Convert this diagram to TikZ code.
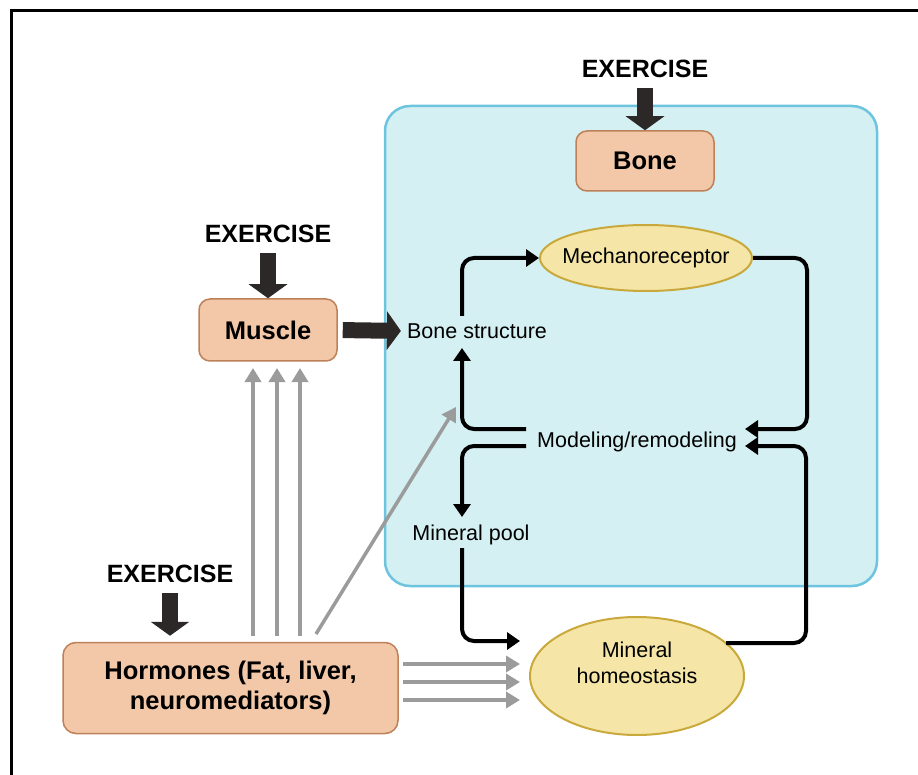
\documentclass[tikz,border=0pt]{standalone}
\usepackage{fontspec}
\setmainfont{Liberation Sans}
\usetikzlibrary{arrows.meta,shapes.geometric}
\definecolor{peach}{HTML}{F2C8A8}
\definecolor{peachline}{HTML}{BE8058}
\definecolor{sand}{HTML}{F5E6A8}
\definecolor{sandline}{HTML}{C9A93B}
\definecolor{lagoon}{HTML}{D4F0F2}
\definecolor{lagoonline}{HTML}{6CC4DE}
\definecolor{darkarrow}{HTML}{2D2828}
\definecolor{grayline}{HTML}{9B9B9B}
\begin{document}
\begin{tikzpicture}[x=1pt,y=-1pt,
  organ/.style={draw=peachline,fill=peach,line width=1.5pt,rounded corners=11pt,inner sep=0pt,
    font=\fontsize{25.5}{30}\selectfont\bfseries,align=center},
  sensor/.style={ellipse,draw=sandline,fill=sand,line width=2pt,inner sep=0pt,
    font=\fontsize{21.5}{26}\selectfont,align=center},
  exlabel/.style={font=\fontsize{25}{30}\selectfont\bfseries,inner sep=0pt,text depth=0pt},
  steplabel/.style={font=\fontsize{21.5}{26}\selectfont,inner sep=3pt,text height=17pt,text depth=2pt},
  bigarrow/.style={draw=darkarrow,line width=16pt,-{Triangle[length=14pt,width=38pt]},shorten <=10pt},
  loopline/.style={draw=black,line width=4pt,rounded corners=12pt,-{Triangle[length=13pt,width=17pt]}},
  grayarrow/.style={draw=grayline,line width=3.5pt,-{Triangle[length=14pt,width=16pt]}}]
\useasboundingbox (0,0) rectangle (918,775);
\draw [line width=3pt] (11,775) -- (11,11) -- (918,11);
\draw [draw=lagoonline,fill=lagoon,line width=2.5pt,rounded corners=25pt] (385,106) rectangle (877,586);
\node [exlabel] (exb) at (645,69) {EXERCISE};
\node [exlabel] (exm) at (268,234) {EXERCISE};
\node [exlabel] (exh) at (170,574) {EXERCISE};
\node [organ,minimum width=138,minimum height=60] (bone) at (645,161) {Bone};
\node [organ,minimum width=138,minimum height=62] (muscle) at (268,330) {Muscle};
\node [organ,minimum width=335,minimum height=91,rounded corners=13pt] (hormones) at (230.5,688) {Hormones (Fat, liver,\\neuromediators)};
\node [sensor,minimum width=212,minimum height=66,inner xsep=-9pt] (mech) at (646,258) {Mechanoreceptor};
\node [sensor,minimum width=214,minimum height=118] (minhom) at (637,676) {Mineral\\homeostasis\\\mbox{}};
\node [steplabel] (bstruct) at (477,331) {Bone structure};
\node [steplabel] (model) at (637,440) {Modeling/remodeling};
\node [steplabel] (pool) at (471,533) {Mineral pool};
\draw [bigarrow] (exb.south) -- (bone.north);
\draw [bigarrow] (exm.south) -- (muscle.north);
\draw [bigarrow,shorten >=6pt] (exh.south) -- (exh.south |- hormones.north);
\draw [bigarrow,shorten <=5pt,shorten >=3pt] (muscle.east) -- (bstruct.west);
\draw [loopline] ([shift={(-15,-15)}]bstruct.center) |- (mech.west);
\draw [loopline] (mech.east) -- ++(54,0) |- ([shift={(108,-11)}]model.center);
\draw [loopline] ([shift={(-111,-11)}]model.center) -| ([shift={(-15,17)}]bstruct.center);
\draw [loopline] ([shift={(-111,6)}]model.center) -| ([shift={(-9,-16)}]pool.center);
\draw [loopline] ([shift={(-9,15)}]pool.center) |- ([shift={(-117,-35)}]minhom.center);
\draw [loopline] ([shift={(89,-33)}]minhom.center) -- ++(80,0) |- ([shift={(108,6)}]model.center);
\draw [grayarrow] ([shift={(22.5,-52)}]hormones.center) -- ([shift={(-15,38)}]muscle.center);
\draw [grayarrow] ([shift={(46.5,-52)}]hormones.center) -- ([shift={(9,38)}]muscle.center);
\draw [grayarrow] ([shift={(69.5,-52)}]hormones.center) -- ([shift={(32,38)}]muscle.center);
\draw [grayarrow] ([shift={(85.5,-54)}]hormones.center) -- ([shift={(-21,76)}]bstruct.center);
\draw [grayarrow] ([shift={(172.5,-24)}]hormones.center) -- ([shift={(-117,-12)}]minhom.center);
\draw [grayarrow] ([shift={(172.5,-6)}]hormones.center) -- ([shift={(-117,6)}]minhom.center);
\draw [grayarrow] ([shift={(172.5,12)}]hormones.center) -- ([shift={(-117,24)}]minhom.center);
\end{tikzpicture}
\end{document}
